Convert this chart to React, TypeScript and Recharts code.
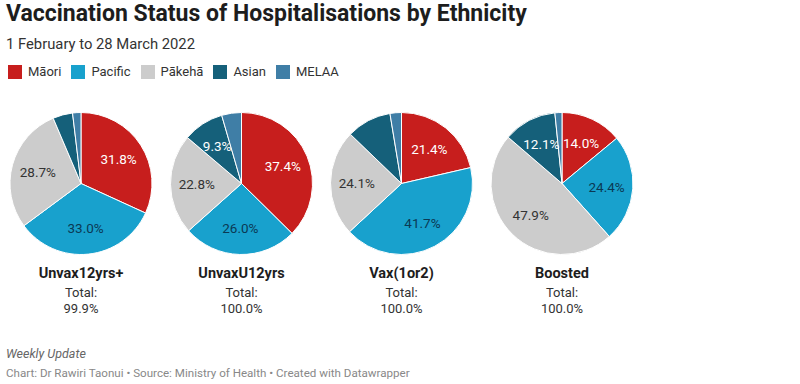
import React from "react";
import { PieChart, Pie, Cell } from "recharts";

const ethnicities = ["Māori", "Pacific", "Pākehā", "Asian", "MELAA"];
const colors = ["#c71e1d", "#18a1cd", "#cccccc", "#15607a", "#3f7ea6"];
const labelColors = ["#ffffff", "#0b3954", "#333333", "#ffffff", "#ffffff"];

const groups = ["Unvax12yrs+", "UnvaxU12yrs", "Vax(1or2)", "Boosted"];
const totals = ["99.9%", "100.0%", "100.0%", "100.0%"];

const unvax12plus = [31.8, 33.0, 28.7, 4.5, 1.9];
const unvaxU12 = [37.4, 26.0, 22.8, 9.3, 4.5];
const vax1or2 = [21.4, 41.7, 24.1, 10.2, 2.6];
const boosted = [14.0, 24.4, 47.9, 12.1, 1.6];

const series = [unvax12plus, unvaxU12, vax1or2, boosted];
// labels not printed in the original (group, ethnicity)
const hiddenLabels = ["Vax(1or2)|Asian"];

const FONT = "Roboto, 'Noto Sans', sans-serif";

const pieCenters = [81, 241.5, 401.5, 562];
const CY = 183.5;
const R = 71;

const RADIAN = Math.PI / 180;

const makeLabel = (group: string) => (props: any) => {
  const { cx, cy, midAngle, outerRadius, value, index } = props;
  if (value < 9) return null;
  if (hiddenLabels.includes(group + "|" + ethnicities[index])) return null;
  const r = outerRadius * 0.63;
  const x = cx + r * Math.cos(-midAngle * RADIAN);
  const y = cy + r * Math.sin(-midAngle * RADIAN);
  return (
    <text
      key={`lbl-${group}-${index}`}
      x={x}
      y={y}
      fill={labelColors[index]}
      textAnchor="middle"
      dominantBaseline="central"
      fontFamily={FONT}
      fontSize={13.5}
    >
      {value.toFixed(1)}%
    </text>
  );
};

export default function App() {
  return (
    <div
      style={{
        position: "absolute",
        left: 0,
        top: 0,
        width: 800,
        height: 384,
        background: "#ffffff",
        fontFamily: FONT,
        overflow: "hidden",
      }}
    >
      <div
        style={{
          position: "absolute",
          left: 6,
          top: 0,
          fontSize: 23,
          fontWeight: 700,
          color: "#1d1d1d",
          lineHeight: "28px",
          whiteSpace: "nowrap",
        }}
      >
        Vaccination Status of Hospitalisations by Ethnicity
      </div>
      <div
        style={{
          position: "absolute",
          left: 6,
          top: 35,
          fontSize: 14.8,
          color: "#333333",
          lineHeight: "18px",
        }}
      >
        1 February to 28 March 2022
      </div>
      <div
        style={{
          position: "absolute",
          left: 8,
          top: 64,
          display: "flex",
          alignItems: "center",
          fontSize: 13,
          color: "#333333",
        }}
      >
        {ethnicities.map((e, i) => (
          <div key={e} style={{ display: "flex", alignItems: "center", marginRight: 10 }}>
            <span
              style={{
                display: "inline-block",
                width: 14,
                height: 14,
                background: colors[i],
                marginRight: 6,
              }}
            />
            <span>{e}</span>
          </div>
        ))}
      </div>

      <div style={{ position: "absolute", left: 0, top: 0 }}>
        <PieChart width={800} height={384} margin={{ top: 0, right: 0, bottom: 0, left: 0 }}>
          {series.map((vals, si) => (
            <Pie
              key={groups[si]}
              data={vals.map((v, i) => ({ name: ethnicities[i], value: v }))}
              dataKey="value"
              nameKey="name"
              cx={pieCenters[si]}
              cy={CY}
              outerRadius={R}
              innerRadius={0}
              startAngle={90}
              endAngle={-270}
              stroke="#ffffff"
              strokeWidth={1}
              label={makeLabel(groups[si])}
              labelLine={false}
              isAnimationActive={false}
            >
              {vals.map((_, i) => (
                <Cell key={i} fill={colors[i]} />
              ))}
            </Pie>
          ))}
        </PieChart>
      </div>

      {groups.map((g, i) => (
        <div
          key={g}
          style={{
            position: "absolute",
            left: pieCenters[i] - 70,
            width: 140,
            top: 264,
            textAlign: "center",
          }}
        >
          <div style={{ fontSize: 14.5, fontWeight: 700, color: "#1d1d1d", lineHeight: "19px" }}>{g}</div>
          <div style={{ fontSize: 13, color: "#333333", lineHeight: "16px", marginTop: 2 }}>Total:</div>
          <div style={{ fontSize: 13, color: "#333333", lineHeight: "16px" }}>{totals[i]}</div>
        </div>
      ))}

      <div
        style={{
          position: "absolute",
          left: 6,
          top: 346,
          fontSize: 12.5,
          fontStyle: "italic",
          color: "#666666",
          lineHeight: "16px",
        }}
      >
        Weekly Update
      </div>
      <div
        style={{
          position: "absolute",
          left: 6,
          top: 365,
          fontSize: 11.6,
          color: "#888888",
          lineHeight: "16px",
          whiteSpace: "nowrap",
        }}
      >
        Chart: Dr Rawiri Taonui • Source: Ministry of Health • Created with Datawrapper
      </div>
    </div>
  );
}
